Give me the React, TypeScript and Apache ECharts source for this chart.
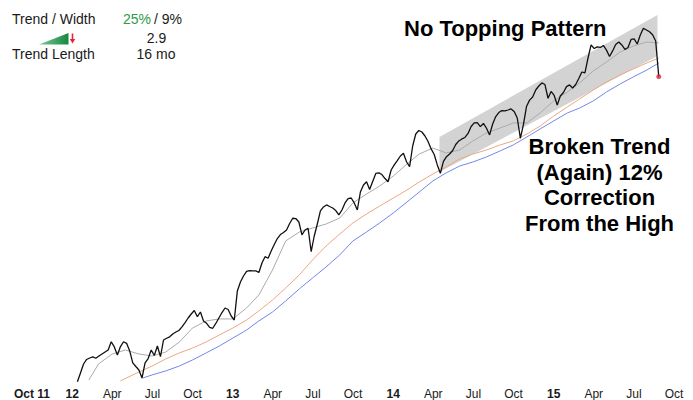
import React, { useEffect, useRef } from "react";
import * as echarts from "echarts";

// ---------- DATA ----------
const weekStart = "2012-01-13"; // first weekly close
const weeklyClose = [
  2587, 2653, 2720, 2754, 2765, 2773, 2763, 2780, 2795, 2810,
  2825, 2887, 2848, 2788, 2851, 2887, 2875, 2818, 2728, 2701,
  2675, 2615, 2728, 2761, 2825, 2784, 2855, 2775, 2900, 2913,
  2924, 2945, 2960, 2971, 2998, 3031, 3065, 3095, 3121, 3075,
  3110, 3043, 3025, 2994, 2988, 3024, 3065, 3106, 3140, 3129,
  3080, 3050, 3268, 3335, 3380, 3414, 3421, 3418, 3418, 3406,
  3478, 3525, 3513, 3568, 3616, 3661, 3691, 3706, 3725, 3774,
  3813, 3811, 3785, 3688, 3725, 3738, 3562, 3680, 3770, 3868,
  3898, 3913, 3901, 3890, 3871, 3838, 3875, 3928, 3961, 3965,
  3928, 3875, 4010, 4063, 4087, 4029, 4089, 4149, 4153, 4141,
  4111, 4087, 4175, 4213, 4246, 4280, 4300, 4237, 4200, 4355,
  4445, 4471, 4460, 4430, 4389, 4333, 4291, 4213, 4150, 4240,
  4275, 4295, 4321, 4366, 4393, 4408, 4419, 4449, 4501, 4528,
  4531, 4500, 4524, 4488, 4438, 4520, 4576, 4606, 4621, 4618,
  4625, 4633, 4614, 4565, 4413, 4516, 4651, 4699, 4723, 4775,
  4805, 4828, 4816, 4713, 4764, 4734, 4663, 4730, 4756, 4800,
  4813, 4790, 4816, 4861, 4910, 4903, 5015, 5113, 5086, 5098,
  5094, 5109, 5074, 5026, 5068, 5116, 5135, 5113, 5079, 5094,
  5154, 5158, 5120, 5188, 5238, 5225, 5212, 5190, 5143, 4875,
];

const months = (from: string, to: string): string[] => {
  const out: string[] = [];
  let [y, m] = from.split("-").map(Number);
  const [ty, tm] = to.split("-").map(Number);
  while (y < ty || (y === ty && m <= tm)) {
    out.push(`${y}-${String(m).padStart(2, "0")}-01`);
    m++;
    if (m > 12) { m = 1; y++; }
  }
  return out;
};

// grey (short) moving average
const maShortDates = ["2012-02-08", ...months("2012-03", "2015-08"), "2015-08-28"];
const maShort = [
  2600, 2720, 2795, 2825, 2795, 2780, 2810, 2885, 2990, 3043, 3058,
  3058, 3140, 3238, 3425, 3643, 3710, 3740, 3770, 3815, 3928, 3995, 4055,
  4130, 4220, 4295, 4340, 4303, 4325, 4393, 4453, 4490, 4528, 4528, 4603,
  4693, 4760, 4828, 4918, 4985, 5060, 5105, 5135, 5128,
];
// orange (mid) moving average
const maMidDates = ["2012-04-20", ...months("2012-06", "2015-08"), "2015-08-28"];
const maMid = [
  2593, 2660, 2705, 2758, 2803, 2840, 2885, 2938,
  2990, 3050, 3118, 3200, 3290, 3388, 3500, 3605, 3695, 3778, 3845, 3905,
  3965, 4025, 4085, 4145, 4198, 4258, 4295, 4325, 4363, 4393, 4445, 4505,
  4580, 4648, 4708, 4775, 4835, 4888, 4933, 4978, 5015,
];
// blue (long) moving average
const maLongDates = ["2012-06-10", ...months("2012-07", "2015-08"), "2015-08-28"];
const maLong = [
  2615, 2638, 2668, 2705, 2750, 2803, 2855,
  2915, 2975, 3043, 3110, 3193, 3283, 3365, 3448, 3538, 3643, 3710, 3778,
  3853, 3935, 4010, 4093, 4153, 4205, 4235, 4273, 4318, 4363, 4423, 4483,
  4543, 4603, 4640, 4693, 4760, 4820, 4873, 4925, 4978,
];

// trend channel corners
const channelDates = ["2014-04-16", "2015-08-25"];
const channelUpper = [4423, 5338];
const channelLower = [4160, 5030];

// x-axis quarter labels
const monthNames = ["", "Apr", "Jul", "Oct"];

// ---------- helpers ----------
const MS_DAY = 86400000;
const T0 = Date.UTC(2012, 0, 1);
const toYear = (d: string) => {
  const [y, m, dd] = d.split("-").map(Number);
  return 2012 + (Date.UTC(y, m - 1, dd) - T0) / (365.25 * MS_DAY);
};
const weekDates = weeklyClose.map((_, i) => {
  const [y, m, d] = weekStart.split("-").map(Number);
  return new Date(Date.UTC(y, m - 1, d) + i * 7 * MS_DAY).toISOString().slice(0, 10);
});
const pairs = (dates: string[], vals: number[]) => vals.map((v, i) => [toYear(dates[i]), v]);

const FONT = '"Liberation Sans", Arial, Helvetica, sans-serif';

export default function App() {
  const ref = useRef<HTMLDivElement>(null);
  useEffect(() => {
    const chart = echarts.init(ref.current!, undefined, { renderer: "svg" });
    const priceData = pairs(weekDates, weeklyClose);
    const last = priceData[priceData.length - 1];
    const cx = channelDates.map(toYear);

    const txt = (text: string, x: number, y: number, size: number, opts: any = {}) => ({
      type: "text",
      x,
      y,
      silent: true,
      style: {
        text,
        fontSize: size,
        fontFamily: FONT,
        fontWeight: opts.bold ? "bold" : "normal",
        fill: opts.fill || "#1a1a1a",
        textAlign: opts.align || "left",
        textVerticalAlign: "middle",
      },
    });

    chart.setOption({
      animation: false,
      backgroundColor: "#ffffff",
      grid: { left: 32, right: 19, top: 10, bottom: 14 },
      xAxis: {
        type: "value",
        min: 2011.75,
        max: 2015.75,
        interval: 0.25,
        axisLine: { show: false },
        axisTick: { show: false },
        splitLine: { show: false },
        axisLabel: {
          margin: 2,
          fontSize: 12,
          fontFamily: FONT,
          color: "#1a1a1a",
          formatter: (v: number) => {
            const y = Math.floor(v + 1e-6);
            const q = Math.round((v - y) * 4);
            if (v < 2011.9) return "{b|Oct 11}";
            if (q === 0) return `{b|${String(y).slice(2)}}`;
            return monthNames[q];
          },
          rich: {
            b: { fontWeight: "bold", fontSize: 12, fontFamily: FONT, color: "#1a1a1a" },
          },
        },
      },
      yAxis: {
        type: "value",
        min: 2555,
        max: 5375,
        show: false,
        splitLine: { show: false },
      },
      series: [
        {
          type: "custom",
          z: 1,
          silent: true,
          data: [[cx[0], channelUpper[0]]],
          renderItem: (_params: any, api: any) => {
            const pts = [
              api.coord([cx[0], channelUpper[0]]),
              api.coord([cx[1], channelUpper[1]]),
              api.coord([cx[1], channelLower[1]]),
              api.coord([cx[0], channelLower[0]]),
            ];
            return {
              type: "polygon",
              shape: { points: pts },
              style: { fill: "rgba(150,150,150,0.42)" },
            };
          },
        },
        {
          type: "line",
          z: 2,
          silent: true,
          showSymbol: false,
          data: pairs(maLongDates, maLong),
          lineStyle: { color: "#7487ea", width: 1 },
        },
        {
          type: "line",
          z: 2,
          silent: true,
          showSymbol: false,
          data: pairs(maMidDates, maMid),
          lineStyle: { color: "#eca784", width: 1 },
        },
        {
          type: "line",
          z: 2,
          silent: true,
          showSymbol: false,
          data: pairs(maShortDates, maShort),
          lineStyle: { color: "#ababab", width: 1 },
        },
        {
          type: "line",
          z: 3,
          silent: true,
          showSymbol: false,
          data: priceData,
          lineStyle: { color: "#111111", width: 1.3 },
        },
        {
          type: "scatter",
          z: 4,
          silent: true,
          symbolSize: 5,
          data: [last],
          itemStyle: { color: "#e0203a" },
        },
      ],
      graphic: [
        txt("Trend / Width", 12, 19, 14),
        txt("25%", 151, 19, 14, { align: "right", fill: "#2f9a48" }),
        txt("/ 9%", 154, 19, 14),
        {
          type: "polygon",
          silent: true,
          shape: { points: [[39, 44.5], [68.5, 33], [68.5, 44.5]] },
          style: {
            fill: new echarts.graphic.LinearGradient(0, 0, 1, 0, [
              { offset: 0, color: "#7cc896" },
              { offset: 1, color: "#17873f" },
            ]),
          },
        },
        {
          type: "line",
          silent: true,
          shape: { x1: 72.5, y1: 33.5, x2: 72.5, y2: 40 },
          style: { stroke: "#e8213a", lineWidth: 1.6 },
        },
        {
          type: "polygon",
          silent: true,
          shape: { points: [[69.8, 39], [75.2, 39], [72.5, 43.5]] },
          style: { fill: "#e8213a" },
        },
        txt("2.9", 156.5, 38, 14, { align: "center" }),
        txt("Trend Length", 12, 54, 14),
        txt("16 mo", 156, 54, 14, { align: "center" }),
        txt("No Topping Pattern", 404, 28.3, 22, { bold: true, fill: "#000" }),
        txt("Broken Trend", 599.5, 146.8, 22, { bold: true, fill: "#000", align: "center" }),
        txt("(Again) 12%", 599.5, 172.4, 22, { bold: true, fill: "#000", align: "center" }),
        txt("Correction", 599.5, 197.8, 22, { bold: true, fill: "#000", align: "center" }),
        txt("From the High", 599.5, 223.4, 22, { bold: true, fill: "#000", align: "center" }),
      ],
    });
    return () => chart.dispose();
  }, []);
  return (
    <div
      ref={ref}
      style={{ position: "fixed", left: 0, top: 0, width: 693, height: 400, background: "#fff" }}
    />
  );
}
